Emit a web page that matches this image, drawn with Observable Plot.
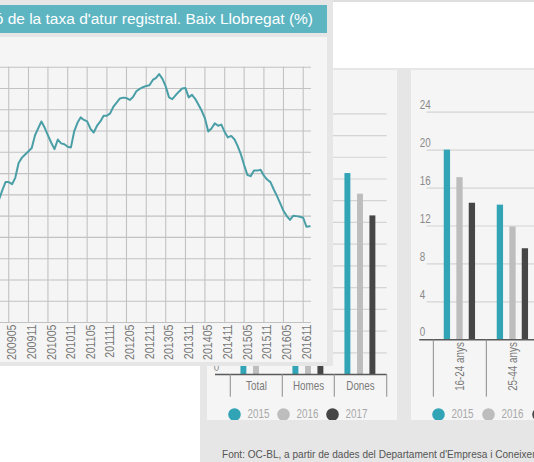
<!DOCTYPE html>
<html lang="ca"><head><meta charset="utf-8">
<script src="https://cdn.jsdelivr.net/npm/d3@7"></script>
<script src="https://cdn.jsdelivr.net/npm/@observablehq/plot@0.6"></script>
<style>
html,body{margin:0;padding:0;background:#fff;}
body{width:534px;height:462px;overflow:hidden;position:relative;font-family:"Liberation Sans",Arial,sans-serif;}
.abs{position:absolute;}
#topline{left:0;top:0;width:534px;height:2px;background:#dedede;}
#outer{left:200px;top:68px;width:334px;height:394px;background:#e6e6e6;}
#mid{left:207px;top:70px;width:190px;height:350px;background:#f5f5f5;overflow:hidden;}
#right{left:411px;top:70px;width:123px;height:350px;background:#f5f5f5;overflow:hidden;}
#foot{left:222px;top:449px;font-size:10.6px;line-height:11px;color:#555;white-space:nowrap;transform:scaleX(0.95);transform-origin:0 50%;}
#linepanel{left:0;top:0;width:333px;height:366px;background:#e6e6e6;overflow:hidden;}
#titlebar{left:0;top:5px;width:327px;height:28px;background:#5db5c2;overflow:hidden;}
#title{right:14px;top:0;color:#fff;font-size:15.5px;line-height:28px;white-space:nowrap;}
#chartarea{left:0;top:37px;width:327px;height:325px;background:#f5f5f5;}
#linechart{left:-8px;top:0;}
</style></head>
<body>
<div id="topline" class="abs"></div>
<div id="outer" class="abs"></div>
<div id="mid" class="abs"></div>
<div id="right" class="abs"></div>
<div id="foot" class="abs">Font: OC-BL, a partir de dades del Departament d'Empresa i Coneixement</div>
<div id="linepanel" class="abs">
  <div id="chartarea" class="abs"></div>
  <div id="titlebar" class="abs"><span id="title" class="abs">Evolució de la taxa d'atur registral. Baix Llobregat (%)</span></div>
  <div id="linechart" class="abs"></div>
</div>
<script>
// ---- Line chart data (monthly registered unemployment rate, %) ----
const lineMonths = [
 "200901","200902","200903","200904","200905","200906","200907","200908","200909","200910","200911","200912",
 "201001","201002","201003","201004","201005","201006","201007","201008","201009","201010","201011","201012",
 "201101","201102","201103","201104","201105","201106","201107","201108","201109","201110","201111","201112",
 "201201","201202","201203","201204","201205","201206","201207","201208","201209","201210","201211","201212",
 "201301","201302","201303","201304","201305","201306","201307","201308","201309","201310","201311","201312",
 "201401","201402","201403","201404","201405","201406","201407","201408","201409","201410","201411","201412",
 "201501","201502","201503","201504","201505","201506","201507","201508","201509","201510","201511","201512",
 "201601","201602","201603","201604","201605","201606","201607","201608","201609","201610","201611","201612",
 "201701"];
const lineRates = [
 11.5,11.8,12.2,12.6,12.6,12.5,12.8,13.5,13.75,13.9,14.05,14.2,
 14.8,15.15,15.45,15.15,14.8,14.45,14.15,14.6,14.42,14.38,14.26,14.23,
 15.0,15.4,15.64,15.52,15.45,15.1,14.93,15.25,15.45,15.72,15.72,15.83,
 16.15,16.35,16.53,16.57,16.55,16.46,16.6,16.87,16.98,17.06,17.12,17.15,
 17.4,17.5,17.68,17.45,17.1,16.58,16.5,16.68,16.85,17.0,17.02,16.58,
 16.7,16.5,16.25,15.95,15.6,14.98,15.12,15.36,15.25,15.3,14.95,14.7,
 14.77,14.6,14.3,13.9,13.4,12.93,12.88,13.14,13.14,13.18,12.9,12.72,
 12.6,12.25,11.95,11.6,11.25,11.0,10.82,11.02,11.0,10.97,10.92,10.5,
 10.52];
const lineTickMonths = ["200905","200911","201005","201011","201105","201111","201205","201211",
 "201305","201311","201405","201411","201505","201511","201605","201611"];
const rateGridTicks = [6,7,8,9,10,11,12,13,14,15,16,17,18];

// ---- Bar chart data by sex ----
const years = ["2015","2016","2017"];
const yearColors = ["#31a4b5","#bdbdbd","#464646"];
const sexCategories = ["Total","Homes","Dones"];
const sex2015 = [15.8,13.3,18.5];
const sex2016 = [13.9,11.4,16.6];
const sex2017 = [null,9.9,14.6];
const sexTicks = [0,2,4,6,8,10,12,14,16,18,20,22,24];

// ---- Bar chart data by age ----
const ageCategories = ["16-24 anys","25-44 anys"];
const age2015 = [20.0,14.2];
const age2016 = [17.1,11.9];
const age2017 = [14.4,9.6];
const ageTicks = [0,4,8,12,16,20,24];

const FONT = '"Liberation Sans",Arial,sans-serif';
const STYLE = `background:transparent;max-width:none;overflow:visible;font-family:${FONT};`;

// compress SVG text horizontally (narrow face look)
function narrow(svg, s){
  svg.querySelectorAll("text").forEach(t=>{
    let tr = t.getAttribute("transform");
    if(!tr){
      const x = t.getAttribute("x")||0, y = t.getAttribute("y")||0;
      t.removeAttribute("x"); t.removeAttribute("y");
      tr = `translate(${x},${y})`;
    }
    t.setAttribute("transform", tr + ` scale(${s},1)`);
  });
  return svg;
}

// ---- Line chart ----
const parseM = d3.utcParse("%Y%m");
const lineData = lineMonths.map((m,i)=>({date:parseM(m), rate:lineRates[i]}));
const lineTicks = lineTickMonths.map(parseM);
const lineChart = Plot.plot({
  width:341, height:362,
  marginLeft:0, marginRight:22, marginTop:66.7, marginBottom:40,
  x:{type:"utc", domain:[parseM("200812"), new Date(Date.UTC(2017,0,17))], label:null},
  y:{domain:[6,18], axis:null, label:null},
  style:STYLE,
  marks:[
    Plot.ruleY(rateGridTicks, {stroke:"#c2c2c2", strokeWidth:1.1}),
    Plot.ruleX(lineTicks, {stroke:"#c2c2c2", strokeWidth:1.1}),
    Plot.axisX({ticks:lineTicks, tickFormat:d3.utcFormat("%Y%m"), tickRotate:-90, tickSize:0, tickPadding:2, dx:3.4, fontSize:13, fill:"#777", label:null}),
    Plot.lineY(lineData, {x:"date", y:"rate", stroke:"#4a9fa7", strokeWidth:2})
  ]
});
document.getElementById("linechart").append(narrow(lineChart, 0.82));

// ---- helper for grouped bars ----
function groupedBars(o){
  const table = [];
  o.cats.forEach((c,i)=>o.series.forEach((arr,j)=>{ if(arr[i]!=null) table.push({cat:c, year:years[j], value:arr[i]}); }));
  const bw = (o.width - o.ml - o.mr)/o.cats.length;
  const frameH = o.height - o.mt - o.mb;
  return Plot.plot({
    width:o.width, height:o.height, marginTop:o.mt, marginBottom:o.mb, marginLeft:o.ml, marginRight:o.mr,
    x:{domain:o.cats, padding:0, label:null},
    y:{domain:[0,o.ticks[o.ticks.length-1]], axis:null, label:null},
    style:STYLE,
    marks:[
      Plot.ruleY(o.ticks.filter(t=>t>0), {stroke:"#d4d4d4", strokeWidth:1.2, insetLeft:o.gridInset}),
      Plot.text(o.ticks, {y:d=>d, text:d=>String(d), frameAnchor:"left", dx:o.labelDx, dy:-7.2, textAnchor:"start", lineAnchor:"middle", fill:"#8a8a8a", fontSize:12}),
      ...years.map((yr,j)=>Plot.barY(table.filter(d=>d.year===yr), {x:"cat", y:"value", fill:yearColors[j],
          insetLeft: bw/2 - o.barW/2 + o.offsets[j], insetRight: bw/2 - o.barW/2 - o.offsets[j]})),
      Plot.ruleY([0], {stroke:"#5a5a5a", strokeWidth:1.5, insetLeft:o.baseInset}),
      Plot.ruleX(o.cats, {x:d=>d, dx:-bw/2, insetTop:frameH, insetBottom:-o.sepLen, stroke:"#8c8c8c"}),
      Plot.ruleX(o.cats.slice(-1), {x:d=>d, dx:bw/2, insetTop:frameH, insetBottom:-o.sepLen, stroke:"#8c8c8c"}),
      Plot.axisX({tickSize:0, tickPadding:o.tickPadding, tickRotate:o.tickRotate, fontSize:12, fill:"#7a7a7a", label:null})
    ]
  });
}

const midChart = groupedBars({cats:sexCategories, series:[sex2015,sex2016,sex2017], ticks:sexTicks,
  width:190, height:350, mt:43.3, mb:46, ml:22.3, mr:10.3,
  gridInset:-16, baseInset:-14.3, labelDx:-16, sepLen:22.7, tickPadding:6.7, tickRotate:0,
  barW:6.4, offsets:[-12.6,0,12.4]});
document.getElementById("mid").append(narrow(midChart, 0.82));

const rightChart = groupedBars({cats:ageCategories, series:[age2015,age2016,age2017], ticks:ageTicks,
  width:138.3, height:350, mt:41.7, mb:80.7, ml:21.7, mr:10,
  gridInset:-6, baseInset:-13.4, labelDx:-13.4, sepLen:57.4, tickPadding:2.4, tickRotate:-90,
  barW:6.6, offsets:[-12.6,0,12.4]});
document.getElementById("right").append(narrow(rightChart, 0.82));

// ---- legends (drawn with Plot) ----
function addLegend(panel, x0, step, cy, width){
  const svg = Plot.plot({
    width, height:20, margin:0,
    x:{type:"point", domain:years, range:[x0, x0+2*step], padding:0, axis:null, label:null},
    color:{type:"identity"},
    style:STYLE,
    marks:[
      Plot.dot(years, {x:d=>d, r:6.3, fill:d=>yearColors[years.indexOf(d)]}),
      Plot.text(years, {x:d=>d, text:d=>d, dx:13, textAnchor:"start", fill:"#a8a8a8", fontSize:12})
    ]
  });
  svg.style.position = "absolute";
  svg.style.left = "0px";
  svg.style.top = (cy-10) + "px";
  panel.append(narrow(svg, 0.82));
}
addLegend(document.getElementById("mid"), 26.8, 49.1, 343.5, 190);
addLegend(document.getElementById("right"), 27.3, 50, 343.7, 160);
</script>
</body></html>
